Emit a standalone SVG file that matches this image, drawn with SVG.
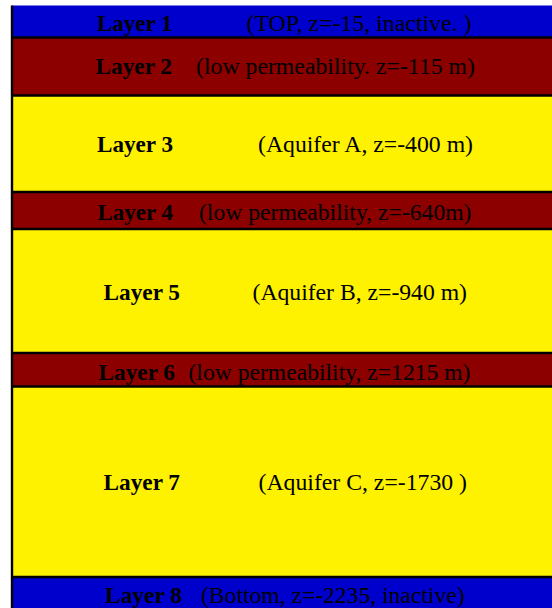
<svg xmlns="http://www.w3.org/2000/svg" width="552" height="608" viewBox="0 0 552 608">
<style>
.blue{fill:#0000cc}
.red{fill:#8c0000}
.yel{fill:#fff200}
.sep{stroke:#000;stroke-width:2.4}
text{font-family:"Liberation Serif","Times New Roman",serif;fill:#000;font-size:23px}
.b{font-weight:bold}
</style>
<rect x="0" y="0" width="552" height="608" fill="#ffffff"/>
<g id="layer1">
<rect class="blue" x="12" y="5.5" width="540" height="32"/>
<text class="b" x="97" y="31" textLength="75.5" lengthAdjust="spacingAndGlyphs">Layer 1</text>
<text x="246.5" y="31" textLength="225" lengthAdjust="spacingAndGlyphs">(TOP, z=-15, inactive. )</text>
</g>
<g id="layer2">
<rect class="red" x="12" y="37.5" width="540" height="58"/>
<text class="b" x="95.5" y="74" textLength="76.5" lengthAdjust="spacingAndGlyphs">Layer 2</text>
<text x="196" y="74" textLength="279" lengthAdjust="spacingAndGlyphs">(low permeability. z=-115 m)</text>
</g>
<g id="layer3">
<rect class="yel" x="12" y="95.5" width="540" height="96.5"/>
<text class="b" x="97" y="151.5" textLength="76" lengthAdjust="spacingAndGlyphs">Layer 3</text>
<text x="258" y="151.5" textLength="215" lengthAdjust="spacingAndGlyphs">(Aquifer A, z=-400 m)</text>
</g>
<g id="layer4">
<rect class="red" x="12" y="192" width="540" height="37"/>
<text class="b" x="97.5" y="219.5" textLength="75.5" lengthAdjust="spacingAndGlyphs">Layer 4</text>
<text x="199" y="219.5" textLength="272.5" lengthAdjust="spacingAndGlyphs">(low permeability, z=-640m)</text>
</g>
<g id="layer5">
<rect class="yel" x="12" y="229" width="540" height="124"/>
<text class="b" x="103.5" y="300" textLength="76.5" lengthAdjust="spacingAndGlyphs">Layer 5</text>
<text x="252.5" y="300" textLength="214.5" lengthAdjust="spacingAndGlyphs">(Aquifer B, z=-940 m)</text>
</g>
<g id="layer6">
<rect class="red" x="12" y="353" width="540" height="33.5"/>
<text class="b" x="98.5" y="379.5" textLength="76.5" lengthAdjust="spacingAndGlyphs">Layer 6</text>
<text x="188.5" y="379.5" textLength="282" lengthAdjust="spacingAndGlyphs">(low permeability, z=1215 m)</text>
</g>
<g id="layer7">
<rect class="yel" x="12" y="386.5" width="540" height="190.5"/>
<text class="b" x="103.5" y="489.5" textLength="76.5" lengthAdjust="spacingAndGlyphs">Layer 7</text>
<text x="258.5" y="489.5" textLength="208.5" lengthAdjust="spacingAndGlyphs">(Aquifer C, z=-1730 )</text>
</g>
<g id="layer8">
<rect class="blue" x="12" y="577" width="540" height="31"/>
<text class="b" x="105" y="602.5" textLength="77" lengthAdjust="spacingAndGlyphs">Layer 8</text>
<text x="201" y="602.5" textLength="263.5" lengthAdjust="spacingAndGlyphs">(Bottom, z=-2235, inactive)</text>
</g>
<g id="lines">
<line class="sep" x1="12" y1="37.5" x2="552" y2="37.5"/>
<line class="sep" x1="12" y1="95.5" x2="552" y2="95.5"/>
<line class="sep" x1="12" y1="192" x2="552" y2="192"/>
<line class="sep" x1="12" y1="229" x2="552" y2="229"/>
<line class="sep" x1="12" y1="353" x2="552" y2="353"/>
<line class="sep" x1="12" y1="386.5" x2="552" y2="386.5"/>
<line class="sep" x1="12" y1="577" x2="552" y2="577"/>
<line x1="12" y1="5.5" x2="12" y2="608" stroke="#000" stroke-width="2.4"/>
</g>
</svg>
